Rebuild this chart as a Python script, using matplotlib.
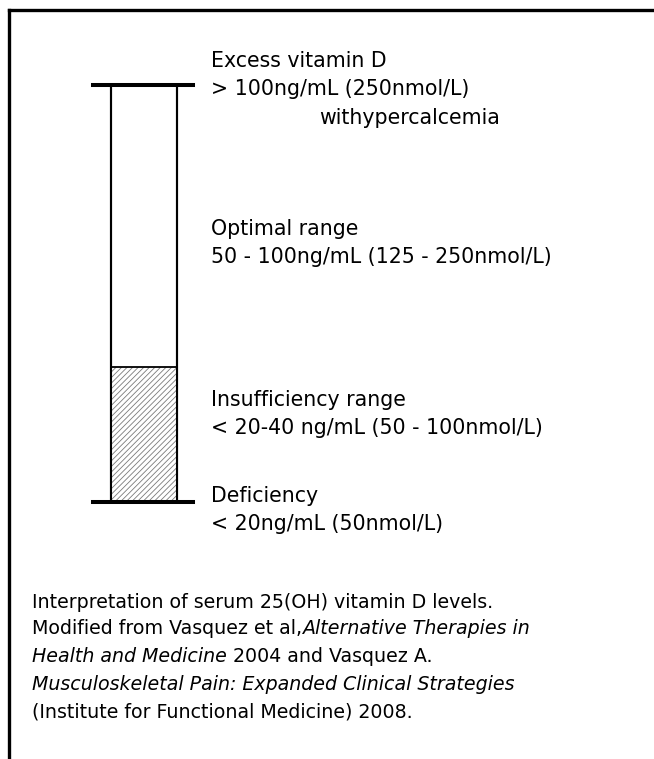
import matplotlib
matplotlib.use("Agg")
import matplotlib.pyplot as plt

# ---- data (serum 25(OH)D interpretation, tube scale 0..100) ----
tube_bottom = 0.0
insufficiency_top = 32.4
tube_top = 100.0

range_titles = ["Excess vitamin D", "Optimal range", "Insufficiency range", "Deficiency"]
range_values = ["> 100ng/mL (250nmol/L)", "50 - 100ng/mL (125 - 250nmol/L)",
                "< 20-40 ng/mL (50 - 100nmol/L)", "< 20ng/mL (50nmol/L)"]
excess_note = "withypercalcemia"
title_baselines = [67, 235, 406.5, 502.5]

caption_line1 = "Interpretation of serum 25(OH) vitamin D levels."
caption_line2 = ("Modified from Vasquez et al,", "Alternative Therapies in")
caption_line3 = ("Health and Medicine", " 2004 and Vasquez A.")
caption_line4 = "Musculoskeletal Pain: Expanded Clinical Strategies"
caption_line5 = "(Institute for Functional Medicine) 2008."

plt.rcParams['font.family'] = ['DejaVu Sans']
plt.rcParams['hatch.linewidth'] = 0.6
FS_LAB = 14.8
FS_CAP = 13.7
W, H = 654, 759

fig = plt.figure(figsize=(W / 100, H / 100), dpi=100)
fig.patch.set_facecolor("white")

bg = fig.add_axes([0, 0, 1, 1])
bg.set_xlim(0, W)
bg.set_ylim(H, 0)
bg.axis("off")

# frame (top and left only)
bg.plot([8.5, 8.5], [H + 2, 9.5], color="black", lw=2.4, solid_capstyle="projecting")
bg.plot([8.5, W + 2], [9.5, 9.5], color="black", lw=2.4, solid_capstyle="projecting")

# tube axes
tx0, tx1 = 93, 193
ty_top, ty_bot = 84.7, 501.7
tube = fig.add_axes([tx0 / W, (H - ty_bot) / H, (tx1 - tx0) / W, (ty_bot - ty_top) / H])
tube.set_xlim(0, 1)
tube.set_ylim(tube_bottom, tube_top)
tube.axis("off")

bar_x, bar_w = 0.51, 0.66
tube.bar(bar_x, tube_top - tube_bottom, width=bar_w, bottom=tube_bottom,
         facecolor="white", edgecolor="black", linewidth=1.5, clip_on=False, zorder=1)
tube.bar(bar_x, insufficiency_top - tube_bottom, width=bar_w, bottom=tube_bottom,
         facecolor="white", edgecolor="#7a7a7a", hatch="//////", linewidth=0,
         clip_on=False, zorder=2)
tube.bar(bar_x, insufficiency_top - tube_bottom, width=bar_w, bottom=tube_bottom,
         fill=False, edgecolor="black", linewidth=1.3, clip_on=False, zorder=3)
tube.bar(bar_x, tube_top - tube_bottom, width=bar_w, bottom=tube_bottom,
         fill=False, edgecolor="black", linewidth=1.5, clip_on=False, zorder=3)
tube.axhline(tube_top, color="black", lw=2.9, clip_on=False, zorder=4)
tube.axhline(tube_bottom, color="black", lw=2.9, clip_on=False, zorder=4)

# range labels
lab_x = 211
for title, val, yb in zip(range_titles, range_values, title_baselines):
    bg.text(lab_x, yb, title, fontsize=FS_LAB, va="baseline", ha="left")
    bg.text(lab_x, yb + 28, val, fontsize=FS_LAB, va="baseline", ha="left")
bg.text(319, title_baselines[0] + 56.5, excess_note, fontsize=FS_LAB, va="baseline", ha="left")

# caption
cx = 32
cy = [607.5, 634.5, 662, 689.5, 717]
bg.text(cx, cy[0], caption_line1, fontsize=FS_CAP, va="baseline", ha="left")
t2 = bg.text(cx, cy[1], caption_line2[0], fontsize=FS_CAP, va="baseline", ha="left")
bg.annotate(caption_line2[1], xy=(1, 0), xycoords=t2, fontsize=FS_CAP, style="italic",
            va="bottom", ha="left")
t3 = bg.text(cx, cy[2], caption_line3[0], fontsize=FS_CAP, style="italic", va="baseline", ha="left")
bg.annotate(caption_line3[1], xy=(1, 0), xycoords=t3, fontsize=FS_CAP,
            va="bottom", ha="left")
bg.text(cx, cy[3], caption_line4, fontsize=FS_CAP, style="italic", va="baseline", ha="left")
bg.text(cx, cy[4], caption_line5, fontsize=FS_CAP, va="baseline", ha="left")

fig.savefig("out.png", dpi=100, facecolor="white")
